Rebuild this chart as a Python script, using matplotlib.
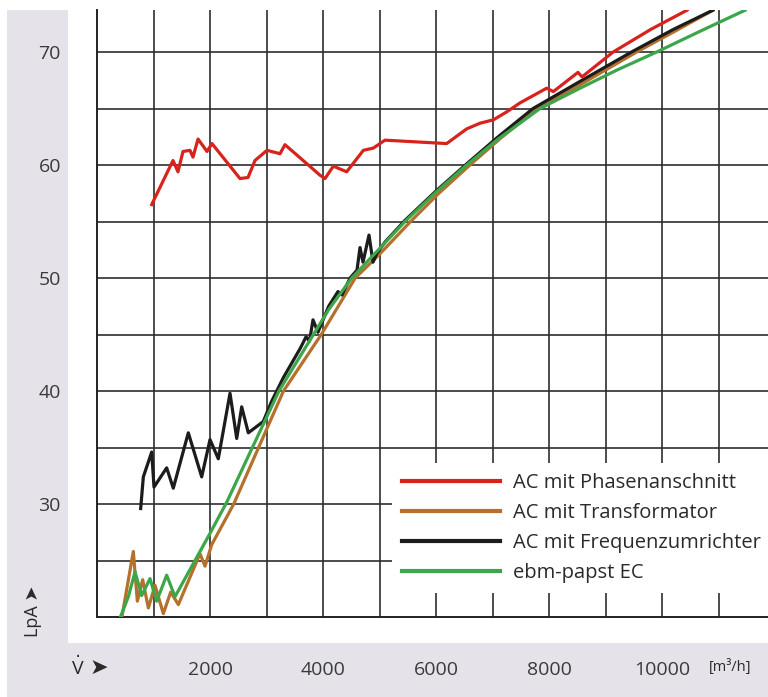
import matplotlib
matplotlib.use('Agg')
import matplotlib.pyplot as plt
from matplotlib.patches import Rectangle
from matplotlib.lines import Line2D

plt.rcParams['font.family'] = ['Open Sans', 'DejaVu Sans']

# ---- data ----
red_x = [968, 1345, 1434, 1522, 1646, 1699, 1788, 1947, 2035, 2531, 2673, 2796, 3009, 3239, 3327,
         3947, 4035, 4183, 4419, 4714, 4891, 5097, 6189, 6543, 6779, 7015, 7251, 7487, 7959, 8077,
         8513, 8584, 9135, 9800, 10442]
red_y = [56.5, 60.4, 59.4, 61.2, 61.3, 60.7, 62.3, 61.2, 61.9, 58.8, 58.9, 60.4, 61.3, 61.0, 61.8,
         59.1, 58.8, 59.9, 59.4, 61.3, 61.5, 62.2, 61.9, 63.2, 63.7, 64.0, 64.7, 65.5, 66.8, 66.5,
         68.2, 67.8, 70.0, 72.0, 73.7]

brown_x = [437, 643, 714, 808, 909, 1027, 1174, 1304, 1440, 1823, 1912, 2030, 2420, 2860, 3300,
           3970, 4570, 5000, 5550, 6050, 6600, 7150, 7800, 8549, 9550, 10250, 10900]
brown_y = [19.9, 25.8, 21.4, 23.3, 20.8, 22.8, 20.3, 22.2, 21.1, 25.6, 24.5, 26.4, 30.0, 35.0, 40.0,
           45.0, 50.0, 52.1, 55.0, 57.5, 60.0, 62.4, 65.0, 67.1, 70.0, 71.9, 73.7]

black_x = [773, 820, 968, 1009, 1233, 1350, 1616, 1853, 2000, 2147, 2354, 2473, 2561, 2678, 2943,
           3092, 3300, 3600, 3700, 3760, 3823, 3911, 4100, 4265, 4336, 4480, 4602, 4655, 4708, 4814,
           4885, 4956, 5100, 5451, 6000, 6543, 7100, 7717, 8549, 9460, 10200, 10900]
black_y = [29.6, 32.4, 34.6, 31.5, 33.2, 31.4, 36.3, 32.4, 35.7, 34.0, 39.8, 35.8, 38.6, 36.3, 37.3,
           39.1, 41.2, 43.8, 44.8, 44.4, 46.3, 45.2, 47.5, 48.8, 48.5, 50.0, 50.7, 52.7, 51.4, 53.8,
           51.4, 52.2, 53.2, 55.1, 57.7, 60.1, 62.5, 65.0, 67.4, 70.0, 72.0, 73.7]

green_x = [407, 555, 673, 791, 938, 1056, 1233, 1381, 2000, 2300, 2750, 3220, 3830, 4100, 4508,
           5000, 5451, 6000, 6543, 7100, 7841, 8549, 9200, 9905, 10700, 11470]
green_y = [19.9, 21.8, 24.0, 21.9, 23.4, 21.4, 23.7, 21.8, 27.4, 30.2, 35.0, 40.0, 45.0, 47.2, 50.0,
           52.6, 55.0, 57.6, 60.0, 62.3, 65.0, 66.8, 68.4, 70.0, 71.9, 73.7]

labels = ['AC mit Phasenanschnitt', 'AC mit Transformator', 'AC mit Frequenzumrichter', 'ebm-papst EC']
colors = ['#d8231d', '#b5702c', '#1c1c1c', '#3da64a']

x_major = [2000, 4000, 6000, 8000, 10000]
x_minor = [1000, 3000, 5000, 7000, 9000, 11000]
y_major = [30, 40, 50, 60, 70]
y_minor = [25, 35, 45, 55, 65]

# ---- figure ----
W, H = 768, 697
fig = plt.figure(figsize=(W / 100, H / 100), dpi=100)
fig.patch.set_facecolor('white')
fig.patches.append(Rectangle((7 / W, 0), 1 - 7 / W, (H - 10) / H, transform=fig.transFigure,
                             facecolor='#e5e3e9', edgecolor='none', zorder=-2))
fig.patches.append(Rectangle((68 / W, (H - 643) / H), (W - 68) / W, (643 - 10) / H,
                             transform=fig.transFigure, facecolor='white', edgecolor='none', zorder=-1))

ax = fig.add_axes([97 / W, (H - 617) / H, (W - 97) / W, (617 - 10) / H])
ax.set_facecolor('white')
ax.set_xlim(0, 11876)
ax.set_ylim(20, 73.72)

ax.set_xticks(x_major)
ax.set_xticks(x_minor, minor=True)
ax.set_yticks(y_major)
ax.set_yticks(y_minor, minor=True)
ax.set_xticklabels([str(v) for v in x_major])
ax.set_yticklabels([str(v) for v in y_major])
ax.tick_params(which='both', length=0)
ax.tick_params(axis='x', pad=32, labelsize=14, labelcolor='#3a3a3a')
ax.tick_params(axis='y', pad=26, labelsize=14, labelcolor='#3a3a3a')
ax.grid(True, which='both', color='#2e2e2e', linewidth=1.2, zorder=1)
ax.set_axisbelow(True)

for s in ['top', 'right']:
    ax.spines[s].set_visible(False)
for s in ['left', 'bottom']:
    ax.spines[s].set_color('#222222')
    ax.spines[s].set_linewidth(1.4)

lw = 2.3
ax.plot(brown_x, brown_y, color=colors[1], lw=lw, zorder=3, solid_joinstyle='round')
ax.plot(black_x, black_y, color=colors[2], lw=lw, zorder=4, solid_joinstyle='round')
ax.plot(green_x, green_y, color=colors[3], lw=lw, zorder=5, solid_joinstyle='round')
ax.plot(red_x, red_y, color=colors[0], lw=lw, zorder=6, solid_joinstyle='round')

handles = [Line2D([], [], color=c, lw=3) for c in colors]
leg = ax.legend(handles, labels, loc='upper left', bbox_to_anchor=(0.4396, 0.2537),
                borderaxespad=0, fontsize=14.5, handlelength=4.87, handletextpad=0.65,
                labelspacing=0.5, borderpad=0.5, frameon=True, fancybox=False,
                framealpha=1, facecolor='white', edgecolor='none')
leg.set_zorder(10)
for t in leg.get_texts():
    t.set_color('#2a2a2a')

# axis captions
fig.text(33 / W, 1 - 611 / H, 'LpA \u27a4', rotation=90, ha='center', va='center',
         fontsize=13, color='#2a2a2a', family=['Open Sans', 'DejaVu Sans'])
fig.text(78 / W, 1 - 667 / H, r'$\dot{\mathregular{V}}$', ha='center', va='center',
         fontsize=14, color='#2a2a2a')
fig.text(99 / W, 1 - 668 / H, '\u27a4', ha='center', va='center',
         fontsize=16, color='#2a2a2a', family=['DejaVu Sans'])
fig.text(730 / W, 1 - 667 / H, '[m\u00b3/h]', ha='center', va='center',
         fontsize=10.5, color='#2a2a2a')

fig.savefig('out.png', dpi=100, facecolor=fig.get_facecolor())
